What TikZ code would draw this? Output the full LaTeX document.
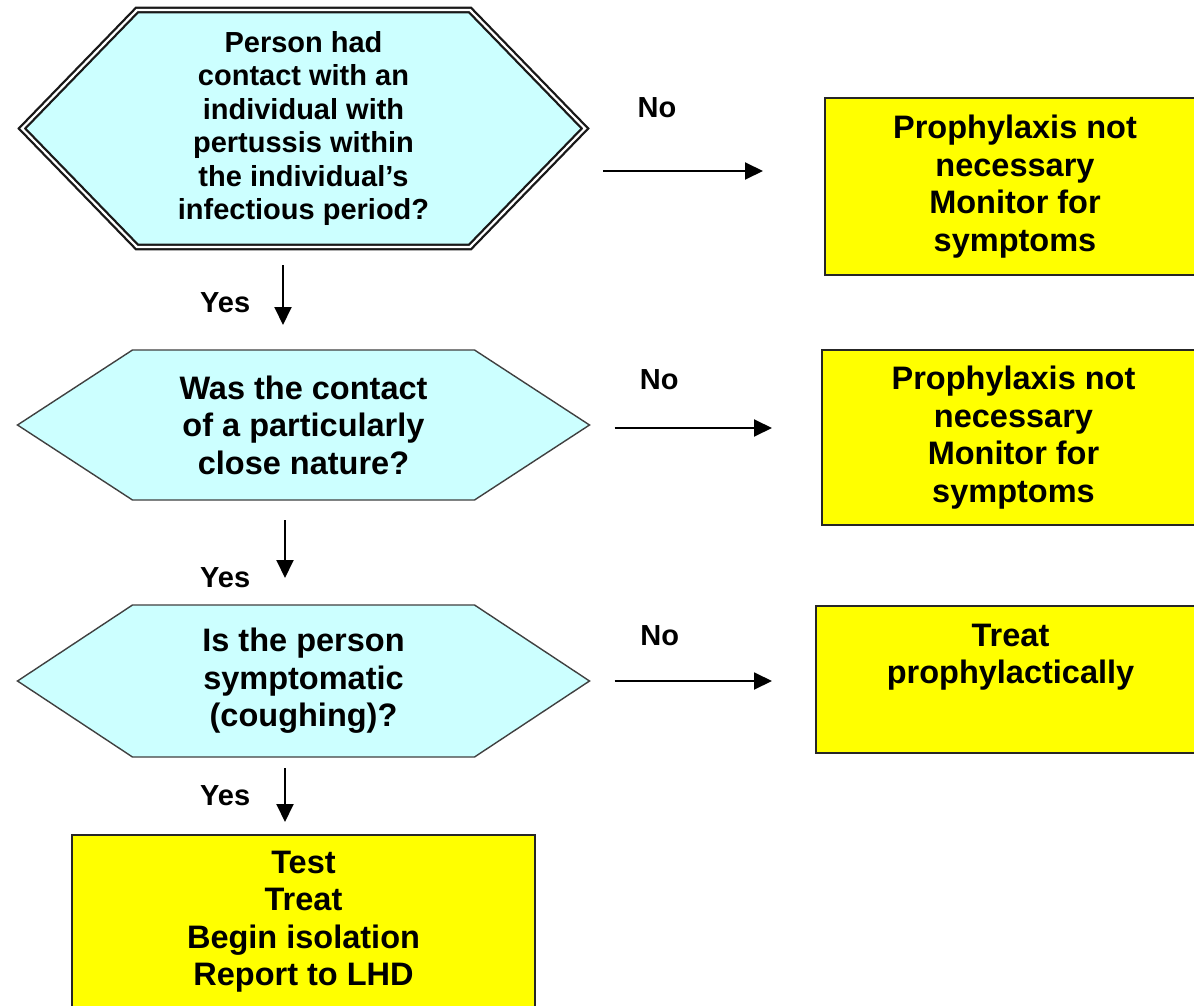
\documentclass[tikz,border=0pt]{standalone}
\usepackage{fontspec}
\setmainfont{Liberation Sans}
\usetikzlibrary{arrows.meta,positioning,backgrounds,calc}

\definecolor{qfill}{HTML}{CCFFFF}
\definecolor{afill}{HTML}{FFFF00}

\newcommand{\hexpath}[1]{(#1.west) -- ([xshift=115pt]#1.north west) -- ([xshift=-115pt]#1.north east) -- (#1.east) -- ([xshift=-115pt]#1.south east) -- ([xshift=115pt]#1.south west) -- cycle}

\begin{document}
\begin{tikzpicture}[
  x=1pt, y=-1pt,
  question/.style={rectangle, outer sep=0pt, minimum width=572pt, minimum height=150pt,
                   align=center, font=\bfseries\fontsize{32.5}{37.5}\selectfont},
  action/.style={draw=black!85, line width=1.5pt, fill=afill, outer sep=0pt,
                 align=center, font=\bfseries\fontsize{32.5}{37.5}\selectfont},
  hexline/.style={draw=black!75, line width=1.4pt, fill=qfill},
  lbl/.style={font=\bfseries\fontsize{29}{34}\selectfont},
  arr/.style={-{Triangle[length=18pt,width=17pt]}, line width=1.9pt, draw=black}
]
\useasboundingbox (0,0) rectangle (1194,1006);

\node[question, minimum width=563pt, minimum height=237pt,
      font=\bfseries\fontsize{29}{33.5}\selectfont] (contact) at (303.5,128.5)
  {Person had\\contact with an\\individual with\\pertussis within\\the individual’s\\infectious period?};
\node[question, below=103pt of contact] (close) {Was the contact\\of a particularly\\close nature?};
\node[question, minimum height=152pt, below=105pt of close] (sympt) {Is the person\\symptomatic\\(coughing)?};
\node[action, minimum width=463pt, minimum height=173pt, below=78pt of sympt] (report)
  {Test\\Treat\\Begin isolation\\Report to LHD};

\node[action, minimum width=380pt, minimum height=177pt] (nocontact) at (1015,186.5)
  {Prophylaxis not\\necessary\\Monitor for\\symptoms};
\node[action, minimum width=383pt, minimum height=175pt] (noclose) at (1013.5,437.5)
  {Prophylaxis not\\necessary\\Monitor for\\symptoms};
\node[action, minimum width=389pt, minimum height=147pt] (prophy) at (1010.5,679.5)
  {Treat\\prophylactically\\[14pt]\mbox{}};

\begin{scope}[on background layer]
  \fill[white] (0,0) rectangle (1194,1006);
  \draw[hexline, draw=black!90, double=white, double distance=2.2pt, line width=2.3pt] \hexpath{contact};
  \draw[hexline] \hexpath{close};
  \draw[hexline] \hexpath{sympt};
\end{scope}

\draw[arr, shorten <=18pt, shorten >=62pt] ([yshift=-42.5pt]contact.east) -- ([yshift=-42.5pt]contact.east -| nocontact.west)
  node[lbl, pos=0.3, above=49pt] {No};
\draw[arr, shorten <=25pt, shorten >=50pt] ([yshift=-3pt]close.east) -- ([yshift=-3pt]close.east -| noclose.west)
  node[lbl, pos=0.3, above=34pt] {No};
\draw[arr, shorten <=25pt, shorten >=44pt] (sympt.east) -- (sympt.east -| prophy.west)
  node[lbl, pos=0.31, above=31pt] {No};

\draw[arr, shorten <=18pt, shorten >=25pt] ([xshift=-20.5pt]contact.south) -- ([xshift=-20.5pt]contact.south |- close.north)
  node[lbl, pos=0.54, left=28.5pt] {Yes};
\draw[arr, shorten <=20pt, shorten >=27pt] ([xshift=-18.5pt]close.south) -- ([xshift=-18.5pt]close.south |- sympt.north)
  node[lbl, pos=0.74, left=30.5pt] {Yes};
\draw[arr, shorten <=11pt, shorten >=13pt] ([xshift=-18.5pt]sympt.south) -- ([xshift=-18.5pt]sympt.south |- report.north)
  node[lbl, pos=0.49, left=30.5pt] {Yes};
\end{tikzpicture}
\end{document}
